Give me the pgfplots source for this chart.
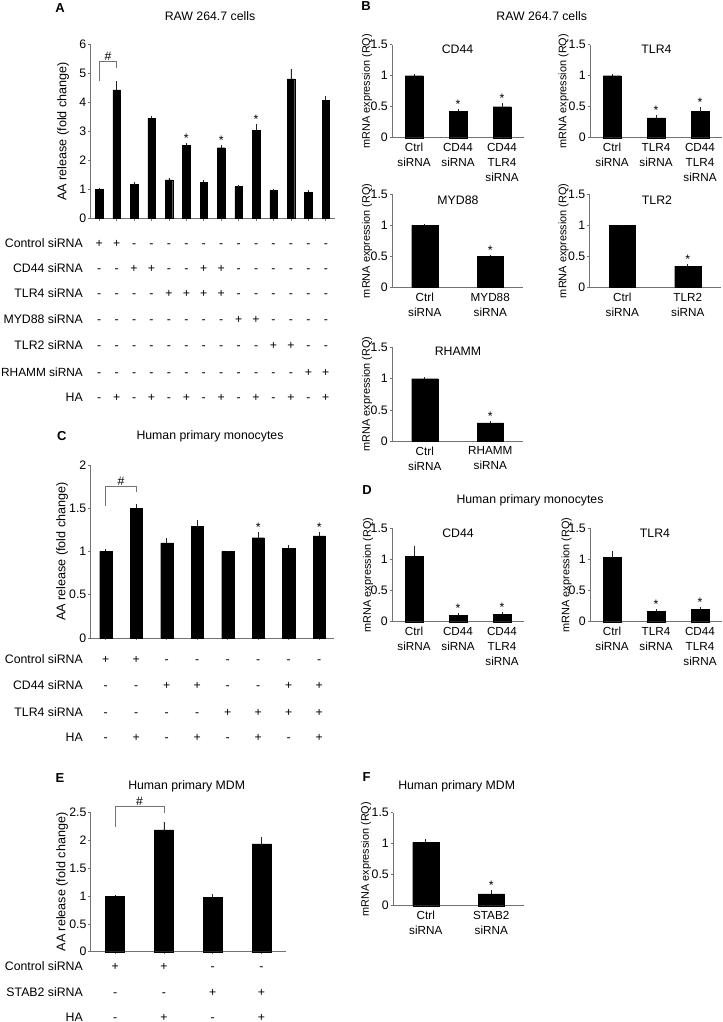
\documentclass[border=0pt]{standalone}
\usepackage{pgfplots}
\pgfplotsset{compat=1.18}
\usepackage{fontspec}
\setmainfont{Liberation Sans}
\newcommand\fs[1]{\fontsize{#1bp}{#1bp}\selectfont}
\newcommand\fsl[2]{\fontsize{#1bp}{#2bp}\selectfont}
\definecolor{axgray}{gray}{0.45}

\pgfplotsset{
  panel/.style={
    scale only axis, anchor=south west, clip=false,
    axis lines=left, axis line style={-, draw=axgray, line width=0.6pt},
    ymin=0,
    tick align=outside, major tick length=2.5bp,
    tick style={draw=axgray, line width=0.6pt},
    ticklabel style={font=\fs{12.3}},
    /pgf/number format/assume math mode=true,
    yticklabel style={/pgf/number format/fixed, inner sep=1.5bp},
    ybar, bar width=0.4,
  },
  small/.style={
    panel, ymax=1.5, ytick={0,0.5,1,1.5},
    xtick=data, xtick style={draw=none},
    xticklabel style={font=\fsl{11.7}{15}, align=center, inner sep=2bp, yshift=-1bp},
  },
  bars/.style={fill=black, draw=black, line width=0.3pt,
    error bars/.cd, y dir=plus, y explicit,
    error bar style={black!85, line width=0.7pt},
    error mark=none},
}
\tikzset{astx/.style={anchor=base, font=\fs{12.3}, yshift=0.5bp}}

\newcommand\signrow[5]{%
  \node[anchor=base east, inner sep=0pt, font=\fs{12.3}] at (83bp, {(1022-#1-4.4)*1bp}) {#2};
  \foreach \sg [count=\i] in {#5} {
    \node[anchor=base, font=\fs{12.3}] at ({(#3+(\i-0.5)*#4)*1bp}, {(1022-#1-4.4)*1bp}) {\sg};
  }%
}

\begin{document}
\begin{tikzpicture}
\useasboundingbox (0,0) rectangle (723bp,1022bp);

% ---------------- Panel A ----------------
\begin{axis}[panel, at={(90.5bp,803.5bp)}, width=244bp, height=174.2bp,
  xmin=0.5, xmax=14.5, ymax=6, ytick={0,1,2,3,4,5,6},
  xtick={1,...,14}, xticklabel=\empty, bar width=0.43]
\addplot[bars] coordinates {
 (1,1.01) +- (0,0.03)
 (2,4.43) +- (0,0.31)
 (3,1.17) +- (0,0.08)
 (4,3.45) +- (0,0.08)
 (5,1.33) +- (0,0.08)
 (6,2.53) +- (0,0.07)
 (7,1.25) +- (0,0.07)
 (8,2.44) +- (0,0.09)
 (9,1.10) +- (0,0.05)
 (10,3.04) +- (0,0.23)
 (11,0.96) +- (0,0.04)
 (12,4.81) +- (0,0.34)
 (13,0.91) +- (0,0.06)
 (14,4.08) +- (0,0.14)
};
\node[astx] at (axis cs:6,2.60) {*};
\node[astx] at (axis cs:8,2.53) {*};
\node[astx] at (axis cs:10,3.27) {*};
\draw[axgray, line width=0.6pt] (axis cs:1,4.75) -- (axis cs:1,5.42) -- (axis cs:2,5.42) -- (axis cs:2,5.18);
\node[anchor=base, font=\fs{12.3}] at (axis cs:1.5,5.45) {\#};
\end{axis}
\node[font=\bfseries\fs{13}] at (60bp,1014bp) {A};
\node[font=\fs{12.3}] at (210bp,1006bp) {RAW 264.7 cells};
\node[font=\fs{12.6}, rotate=90] at (63bp,890.6bp) {AA release (fold change)};
\signrow{243}{Control siRNA}{90.5}{17.43}{+,+,-,-,-,-,-,-,-,-,-,-,-,-}
\signrow{268.3}{CD44 siRNA}{90.5}{17.43}{-,-,+,+,-,-,+,+,-,-,-,-,-,-}
\signrow{293.5}{TLR4 siRNA}{90.5}{17.43}{-,-,-,-,+,+,+,+,-,-,-,-,-,-}
\signrow{319.3}{MYD88 siRNA}{90.5}{17.43}{-,-,-,-,-,-,-,-,+,+,-,-,-,-}
\signrow{345}{TLR2 siRNA}{90.5}{17.43}{-,-,-,-,-,-,-,-,-,-,+,+,-,-}
\signrow{371.7}{{\fs{11.85}RHAMM siRNA}}{90.5}{17.43}{-,-,-,-,-,-,-,-,-,-,-,-,+,+}
\signrow{396.7}{HA}{90.5}{17.43}{-,+,-,+,-,+,-,+,-,+,-,+,-,+}

% ---------------- Panel B ----------------
\node[font=\bfseries\fs{13}] at (366bp,1016bp) {B};
\node[font=\fs{12.3}] at (541.7bp,1006.3bp) {RAW 264.7 cells};

\begin{axis}[small, at={(392bp,884.3bp)}, width=132bp, height=93bp,
  xmin=0.5, xmax=3.5,
  xticklabels={{Ctrl\\siRNA},{CD44\\siRNA},{CD44\\TLR4\\siRNA}}]
\addplot[bars] coordinates {(1,1.00) +- (0,0.02) (2,0.43) +- (0,0.04) (3,0.50) +- (0,0.06)};
\node[astx] at (axis cs:2,0.47) {*};
\node[astx] at (axis cs:3,0.56) {*};
\end{axis}
\node[font=\fs{12.3}] at (457.5bp,972.7bp) {CD44};
\node[font=\fs{10.9}, rotate=90] at (367bp,930.8bp) {mRNA expression (RQ)};

\begin{axis}[small, at={(590bp,884.3bp)}, width=132bp, height=93bp,
  xmin=0.5, xmax=3.5,
  xticklabels={{Ctrl\\siRNA},{TLR4\\siRNA},{CD44\\TLR4\\siRNA}}]
\addplot[bars] coordinates {(1,1.00) +- (0,0.02) (2,0.32) +- (0,0.045) (3,0.42) +- (0,0.08)};
\node[astx] at (axis cs:2,0.365) {*};
\node[astx] at (axis cs:3,0.50) {*};
\end{axis}
\node[font=\fs{12.3}] at (656.5bp,972.7bp) {TLR4};
\node[font=\fs{10.9}, rotate=90] at (563.5bp,930.8bp) {mRNA expression (RQ)};

\begin{axis}[small, at={(392bp,734.7bp)}, width=131bp, height=93bp,
  xmin=0.5, xmax=2.5,
  xticklabels={{Ctrl\\siRNA},{MYD88\\siRNA}}]
\addplot[bars] coordinates {(1,1.00) +- (0,0.02) (2,0.50) +- (0,0.02)};
\node[astx] at (axis cs:2,0.52) {*};
\end{axis}
\node[font=\fs{12.3}] at (458bp,822bp) {MYD88};
\node[font=\fs{10.9}, rotate=90] at (367bp,781.2bp) {mRNA expression (RQ)};

\begin{axis}[small, at={(589.5bp,734.7bp)}, width=131bp, height=93bp,
  xmin=0.5, xmax=2.5,
  xticklabels={{Ctrl\\siRNA},{TLR2\\siRNA}}]
\addplot[bars] coordinates {(1,1.00) +- (0,0.01) (2,0.34) +- (0,0.03)};
\node[astx] at (axis cs:2,0.37) {*};
\end{axis}
\node[font=\fs{12.3}] at (657bp,822bp) {TLR2};
\node[font=\fs{10.9}, rotate=90] at (563.5bp,781.2bp) {mRNA expression (RQ)};

\begin{axis}[small, at={(392bp,581bp)}, width=131bp, height=93.5bp,
  xmin=0.5, xmax=2.5,
  xticklabels={{Ctrl\\siRNA},{RHAMM\\siRNA}}]
\addplot[bars] coordinates {(1,1.00) +- (0,0.03) (2,0.29) +- (0,0.03)};
\node[astx] at (axis cs:2,0.32) {*};
\end{axis}
\node[font=\fs{12.3}] at (458bp,670.3bp) {RHAMM};
\node[font=\fs{10.9}, rotate=90] at (367bp,628bp) {mRNA expression (RQ)};

% ---------------- Panel C ----------------
\begin{axis}[panel, at={(90.5bp,384bp)}, width=244bp, height=173bp,
  xmin=0.5, xmax=8.5, ymax=2, ytick={0,0.5,1,1.5,2},
  xtick={1,...,8}, xticklabel=\empty, bar width=0.4]
\addplot[bars] coordinates {
 (1,1.00) +- (0,0.03)
 (2,1.50) +- (0,0.05)
 (3,1.10) +- (0,0.06)
 (4,1.29) +- (0,0.07)
 (5,1.00) +- (0,0.01)
 (6,1.16) +- (0,0.06)
 (7,1.04) +- (0,0.03)
 (8,1.18) +- (0,0.05)
};
\node[astx] at (axis cs:6,1.22) {*};
\node[astx] at (axis cs:8,1.23) {*};
\draw[axgray, line width=0.6pt] (axis cs:1,1.53) -- (axis cs:1,1.75) -- (axis cs:2,1.75) -- (axis cs:2,1.69);
\node[anchor=base, font=\fs{12.3}] at (axis cs:1.5,1.76) {\#};
\end{axis}
\node[font=\bfseries\fs{13}] at (61.7bp,586bp) {C};
\node[font=\fs{12.3}] at (210bp,586bp) {Human primary monocytes};
\node[font=\fs{12.6}, rotate=90] at (62bp,470.5bp) {AA release (fold change)};
\signrow{659.5}{Control siRNA}{90.5}{30.5}{+,+,-,-,-,-,-,-}
\signrow{685.5}{CD44 siRNA}{90.5}{30.5}{-,-,+,+,-,-,+,+}
\signrow{712}{TLR4 siRNA}{90.5}{30.5}{-,-,-,-,+,+,+,+}
\signrow{737}{HA}{90.5}{30.5}{-,+,-,+,-,+,-,+}

% ---------------- Panel D ----------------
\node[font=\bfseries\fs{13}] at (367bp,532bp) {D};
\node[font=\fs{12.3}] at (530bp,521.3bp) {Human primary monocytes};

\begin{axis}[small, at={(392bp,400.3bp)}, width=132bp, height=93.4bp,
  xmin=0.5, xmax=3.5,
  xticklabels={{Ctrl\\siRNA},{CD44\\siRNA},{CD44\\TLR4\\siRNA}}]
\addplot[bars] coordinates {(1,1.05) +- (0,0.17) (2,0.107) +- (0,0.035) (3,0.118) +- (0,0.03)};
\node[astx] at (axis cs:2,0.14) {*};
\node[astx] at (axis cs:3,0.15) {*};
\end{axis}
\node[font=\fs{12.3}] at (458bp,489bp) {CD44};
\node[font=\fs{10.9}, rotate=90] at (368bp,447bp) {mRNA expression (RQ)};

\begin{axis}[small, at={(590bp,400.3bp)}, width=132bp, height=93.4bp,
  xmin=0.5, xmax=3.5,
  xticklabels={{Ctrl\\siRNA},{TLR4\\siRNA},{CD44\\TLR4\\siRNA}}]
\addplot[bars] coordinates {(1,1.03) +- (0,0.10) (2,0.166) +- (0,0.04) (3,0.20) +- (0,0.03)};
\node[astx] at (axis cs:2,0.205) {*};
\node[astx] at (axis cs:3,0.23) {*};
\end{axis}
\node[font=\fs{12.3}] at (655bp,489bp) {TLR4};
\node[font=\fs{10.9}, rotate=90] at (566.5bp,447bp) {mRNA expression (RQ)};

% ---------------- Panel E ----------------
\begin{axis}[panel, at={(90.7bp,70.3bp)}, width=195.3bp, height=139bp,
  xmin=0.5, xmax=4.5, ymax=2.5, ytick={0,0.5,1,1.5,2,2.5},
  xtick={1,...,4}, xticklabel=\empty, bar width=0.39]
\addplot[bars] coordinates {
 (1,1.00) +- (0,0.02)
 (2,2.19) +- (0,0.15)
 (3,0.98) +- (0,0.06)
 (4,1.94) +- (0,0.12)
};
\draw[axgray, line width=0.6pt] (axis cs:1,2.25) -- (axis cs:1,2.61) -- (axis cs:2,2.61) -- (axis cs:2,2.49);
\node[anchor=base, font=\fs{12.3}] at (axis cs:1.5,2.63) {\#};
\end{axis}
\node[font=\bfseries\fs{13}] at (60bp,244bp) {E};
\node[font=\fs{12.3}] at (186.7bp,236bp) {Human primary MDM};
\node[font=\fs{12.6}, rotate=90] at (62bp,140bp) {AA release (fold change)};
\signrow{965.7}{Control siRNA}{90.7}{48.8}{+,+,-,-}
\signrow{992.3}{STAB2 siRNA}{90.7}{48.8}{-,-,+,+}
\signrow{1016.7}{HA}{90.7}{48.8}{-,+,-,+}

% ---------------- Panel F ----------------
\begin{axis}[small, at={(393bp,116.3bp)}, width=131bp, height=93bp,
  xmin=0.5, xmax=2.5,
  xticklabels={{Ctrl\\siRNA},{STAB2\\siRNA}}]
\addplot[bars] coordinates {(1,1.02) +- (0,0.05) (2,0.19) +- (0,0.06)};
\node[astx] at (axis cs:2,0.25) {*};
\end{axis}
\node[font=\bfseries\fs{13}] at (366.5bp,245bp) {F};
\node[font=\fs{12.3}] at (456.7bp,236bp) {Human primary MDM};
\node[font=\fs{10.9}, rotate=90] at (366bp,162.8bp) {mRNA expression (RQ)};

\end{tikzpicture}
\end{document}
